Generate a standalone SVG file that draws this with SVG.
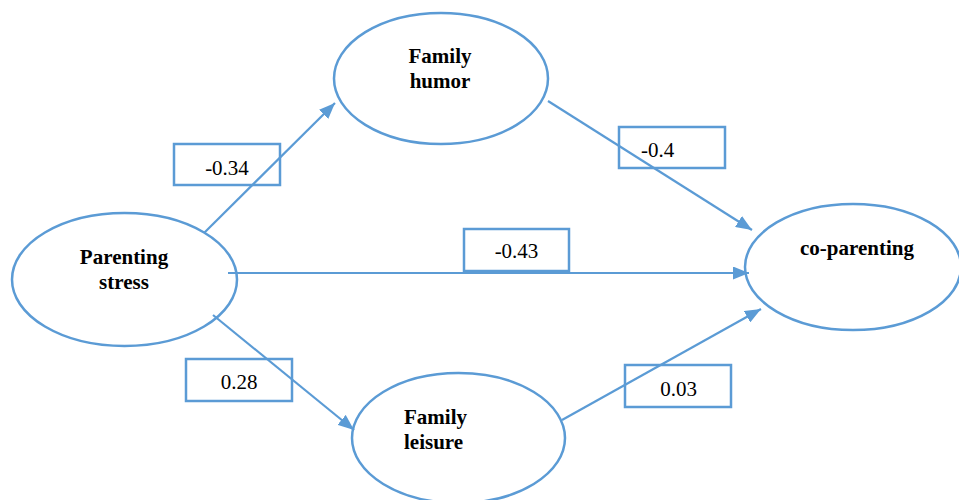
<svg xmlns="http://www.w3.org/2000/svg" width="959" height="500" viewBox="0 0 959 500">
  <defs>
    <style>
      .node ellipse { fill: #ffffff; stroke: #5b9bd5; stroke-width: 2.5; }
      .lbl { font-family: 'Liberation Serif', Tinos, 'Times New Roman', 'DejaVu Serif', serif; font-weight: bold; font-size: 21px; fill: #000000; }
      .box rect { fill: none; stroke: #5b9bd5; stroke-width: 2.5; }
      .num { font-family: 'Liberation Serif', Tinos, 'Times New Roman', 'DejaVu Serif', serif; font-size: 21px; fill: #000000; }
      .edge { stroke: #5b9bd5; stroke-width: 2.2; fill: none; marker-end: url(#arrow); }
    </style>
    <marker id="arrow" markerUnits="userSpaceOnUse" markerWidth="17" markerHeight="13" refX="16" refY="6.5" orient="auto">
      <path d="M0,0 L16,6.5 L0,13 z" fill="#5b9bd5"/>
    </marker>
  </defs>
  <rect width="959" height="500" fill="#ffffff"/>

  <g id="family-humor" class="node">
    <ellipse cx="441" cy="78.5" rx="107" ry="65.5"/>
    <text class="lbl" x="440" y="63" text-anchor="middle" font-family="Liberation Serif, serif">Family</text>
    <text class="lbl" x="440" y="88" text-anchor="middle" font-family="Liberation Serif, serif">humor</text>
  </g>

  <g id="parenting-stress" class="node">
    <ellipse cx="124.5" cy="279.5" rx="112.5" ry="66.5"/>
    <text class="lbl" x="124" y="264" text-anchor="middle" font-family="Liberation Serif, serif">Parenting</text>
    <text class="lbl" x="124" y="289" text-anchor="middle" font-family="Liberation Serif, serif">stress</text>
  </g>

  <g id="co-parenting" class="node">
    <ellipse cx="853" cy="267" rx="108" ry="63"/>
    <text class="lbl" x="857" y="255" text-anchor="middle" font-family="Liberation Serif, serif">co-parenting</text>
  </g>

  <g id="family-leisure" class="node">
    <ellipse cx="458.5" cy="438" rx="106.5" ry="65"/>
    <text class="lbl" x="404" y="424" font-family="Liberation Serif, serif">Family</text>
    <text class="lbl" x="404" y="449" font-family="Liberation Serif, serif">leisure</text>
  </g>

  <g id="coef-1" class="box">
    <rect x="174" y="144" width="106" height="41"/>
    <text class="num" x="227" y="175" text-anchor="middle" font-family="Liberation Serif, serif">-0.34</text>
  </g>
  <g id="coef-2" class="box">
    <rect x="619" y="127" width="106" height="41"/>
    <text class="num" x="641" y="157" font-family="Liberation Serif, serif">-0.4</text>
  </g>
  <g id="coef-3" class="box">
    <rect x="464" y="229" width="105" height="42"/>
    <text class="num" x="516.5" y="258" text-anchor="middle" font-family="Liberation Serif, serif">-0.43</text>
  </g>
  <g id="coef-4" class="box">
    <rect x="186" y="359" width="106" height="42"/>
    <text class="num" x="239" y="389" text-anchor="middle" font-family="Liberation Serif, serif">0.28</text>
  </g>
  <g id="coef-5" class="box">
    <rect x="625" y="365" width="106" height="42"/>
    <text class="num" x="678.5" y="396" text-anchor="middle" font-family="Liberation Serif, serif">0.03</text>
  </g>

  <g id="connectors">
    <line class="edge" x1="204" y1="233" x2="335" y2="103"/>
    <line class="edge" x1="548" y1="101" x2="752" y2="230"/>
    <line class="edge" x1="228" y1="273" x2="749" y2="273"/>
    <line class="edge" x1="213" y1="315" x2="354" y2="430"/>
    <line class="edge" x1="562" y1="420" x2="761" y2="309"/>
  </g>
</svg>
